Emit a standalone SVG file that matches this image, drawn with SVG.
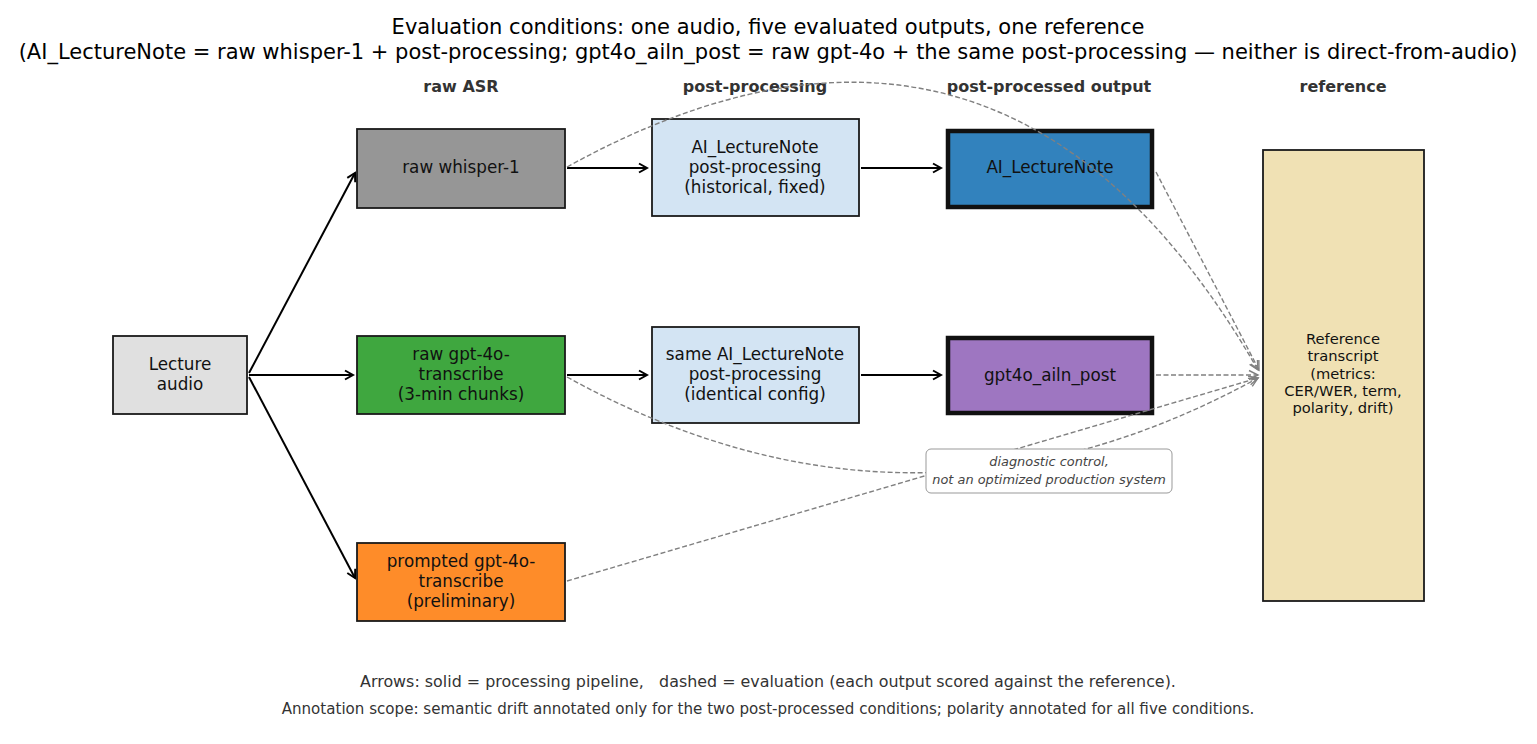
<svg xmlns="http://www.w3.org/2000/svg" width="1537" height="744" viewBox="0 0 1537 744">
<style>
text{font-family:"DejaVu Sans","Liberation Sans",sans-serif;text-anchor:middle}
.title{font-size:21px;fill:#000}
.hdr{font-size:16px;font-weight:bold;fill:#333}
.lbl{font-size:16.8px;fill:#111}
.ref{font-size:14.7px;fill:#111}
.note{font-size:12.9px;font-style:italic;fill:#444}
.foot{font-size:15.9px;fill:#333}
.foot2{font-size:15.1px;fill:#333}
.box{stroke:#1a1a1a;stroke-width:1.8}
.thick{stroke:#111;stroke-width:4.5}
.solid{fill:none;stroke:#000;stroke-width:2}
.dash{fill:none;stroke:#808080;stroke-width:1.4;stroke-dasharray:5,2.5}
</style>
<defs>
<marker id="ah" markerWidth="12" markerHeight="12" refX="10" refY="6" orient="auto" markerUnits="userSpaceOnUse">
<path d="M2,1.5 L10,6 L2,10.5" fill="none" stroke="#000" stroke-width="2"/>
</marker>
<marker id="ahg" markerWidth="14" markerHeight="12" refX="12" refY="6" orient="auto" markerUnits="userSpaceOnUse">
<path d="M3,1.5 L12,6 L3,10.5" fill="none" stroke="#808080" stroke-width="1.4"/>
</marker>
</defs>
<rect width="1537" height="744" fill="#fff"/>
<text class="title" x="768" y="34">Evaluation conditions: one audio, five evaluated outputs, one reference</text>
<text class="title" x="768" y="59">(AI_LectureNote = raw whisper-1 + post-processing; gpt4o_ailn_post = raw gpt-4o + the same post-processing — neither is direct-from-audio)</text>
<text class="hdr" x="461" y="92">raw ASR</text>
<text class="hdr" x="755" y="92">post-processing</text>
<text class="hdr" x="1049" y="92">post-processed output</text>
<text class="hdr" x="1343" y="92">reference</text>

<g id="lecture-audio">
<rect class="box" x="113" y="336" width="134" height="78" fill="#e0e0e0"/>
<text class="lbl" x="180" y="370">Lecture</text>
<text class="lbl" x="180" y="390">audio</text>
</g>
<g id="raw-whisper">
<rect class="box" x="357" y="129" width="208" height="79" fill="#969696"/>
<text class="lbl" x="461" y="173">raw whisper-1</text>
</g>
<g id="raw-gpt4o">
<rect class="box" x="357" y="336" width="208" height="78" fill="#3fa73f"/>
<text class="lbl" x="461" y="360">raw gpt-4o-</text>
<text class="lbl" x="461" y="380">transcribe</text>
<text class="lbl" x="461" y="400">(3-min chunks)</text>
</g>
<g id="prompted-gpt4o">
<rect class="box" x="357" y="543" width="208" height="78" fill="#fe8c29"/>
<text class="lbl" x="461" y="567">prompted gpt-4o-</text>
<text class="lbl" x="461" y="587">transcribe</text>
<text class="lbl" x="461" y="607">(preliminary)</text>
</g>
<g id="pp-historical">
<rect class="box" x="652" y="119" width="207" height="97" fill="#d3e4f3"/>
<text class="lbl" x="755" y="153">AI_LectureNote</text>
<text class="lbl" x="755" y="173">post-processing</text>
<text class="lbl" x="755" y="193">(historical, fixed)</text>
</g>
<g id="pp-same">
<rect class="box" x="652" y="327" width="207" height="96" fill="#d3e4f3"/>
<text class="lbl" x="755" y="360">same AI_LectureNote</text>
<text class="lbl" x="755" y="380">post-processing</text>
<text class="lbl" x="755" y="400">(identical config)</text>
</g>
<g id="ai-lecturenote">
<rect class="thick" x="948" y="131" width="204" height="76" fill="#3282bd"/>
<text class="lbl" x="1050" y="173">AI_LectureNote</text>
</g>
<g id="gpt4o-ailn-post">
<rect class="thick" x="948" y="338" width="204" height="75" fill="#9e76c1"/>
<text class="lbl" x="1050" y="381">gpt4o_ailn_post</text>
</g>
<g id="reference">
<rect class="box" x="1263" y="150" width="161" height="451" fill="#f0e1b4"/>
<text class="ref" x="1343" y="344">Reference</text>
<text class="ref" x="1343" y="361">transcript</text>
<text class="ref" x="1343" y="379">(metrics:</text>
<text class="ref" x="1343" y="396">CER/WER, term,</text>
<text class="ref" x="1343" y="413">polarity, drift)</text>
</g>

<g id="connectors">
<line class="solid" x1="249" y1="373" x2="355" y2="173" marker-end="url(#ah)"/>
<line class="solid" x1="249" y1="375" x2="353" y2="375" marker-end="url(#ah)"/>
<line class="solid" x1="249" y1="377" x2="355" y2="578" marker-end="url(#ah)"/>
<line class="solid" x1="567" y1="168" x2="647" y2="168" marker-end="url(#ah)"/>
<line class="solid" x1="861" y1="168" x2="941" y2="168" marker-end="url(#ah)"/>
<line class="solid" x1="567" y1="375" x2="647" y2="375" marker-end="url(#ah)"/>
<line class="solid" x1="861" y1="375" x2="941" y2="375" marker-end="url(#ah)"/>
<path class="dash" d="M567,167 Q1003,-74 1258,370" marker-end="url(#ahg)"/>
<line class="dash" x1="1156" y1="172" x2="1259" y2="370" marker-end="url(#ahg)"/>
<line class="dash" x1="1156" y1="375" x2="1258" y2="375" marker-end="url(#ahg)"/>
<path class="dash" d="M567,377 Q912,568 1258,378" marker-end="url(#ahg)"/>
<line class="dash" x1="567" y1="581" x2="1258" y2="378" marker-end="url(#ahg)"/>
</g>

<g id="annotation">
<rect x="926" y="449" width="246" height="44" rx="5" fill="#fff" stroke="#999" stroke-width="1"/>
<text class="note" x="1049" y="466">diagnostic control,</text>
<text class="note" x="1049" y="484">not an optimized production system</text>
</g>
<text class="foot" x="768" y="687" xml:space="preserve">Arrows: solid = processing pipeline,   dashed = evaluation (each output scored against the reference).</text>
<text class="foot2" x="768" y="714">Annotation scope: semantic drift annotated only for the two post-processed conditions; polarity annotated for all five conditions.</text>
</svg>
